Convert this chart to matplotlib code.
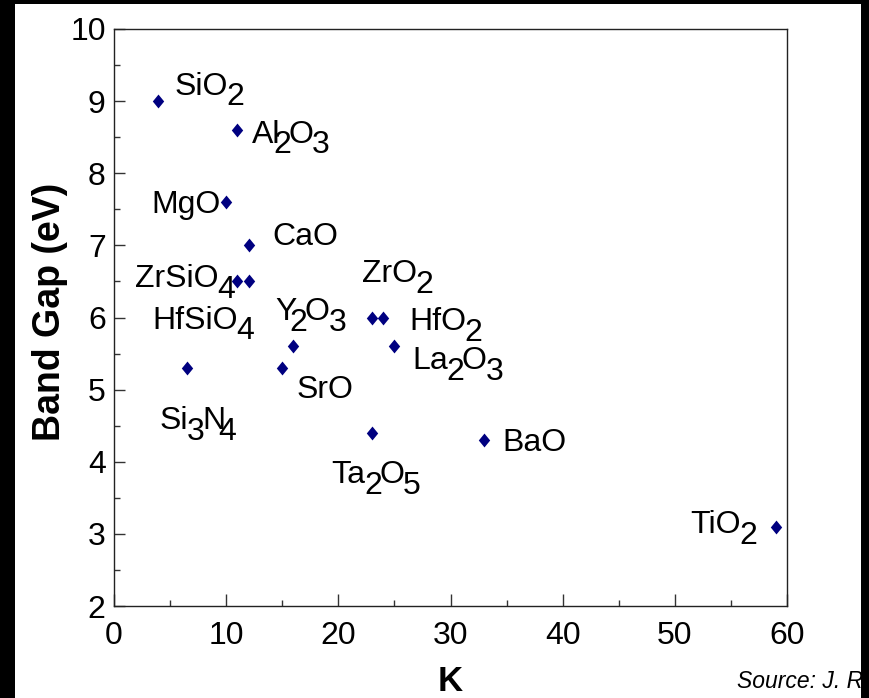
import matplotlib
matplotlib.use("Agg")
import matplotlib.pyplot as plt
from matplotlib.patches import Rectangle
from matplotlib.path import Path

plt.rcParams['font.family'] = ['Liberation Sans', 'DejaVu Sans']

# dielectric constant K and band gap (eV) for each oxide
names = ["SiO2", "Al2O3", "MgO", "CaO", "ZrSiO4", "HfSiO4", "Y2O3", "SrO",
         "Si3N4", "ZrO2", "HfO2", "La2O3", "Ta2O5", "BaO", "TiO2"]
k_vals = [3.9, 11, 10, 12, 12, 11, 16, 15, 6.5, 23, 24, 25, 23, 33, 59]
gap_vals = [9.0, 8.6, 7.6, 7.0, 6.5, 6.5, 5.6, 5.3, 5.3, 6.0, 6.0, 5.6, 4.4, 4.3, 3.1]

# label pieces: (text, is_subscript, kerning in points)
label_parts = {
    "SiO2": [("SiO", 0, 0), ("2", 1, -1)],
    "Al2O3": [("Al", 0, 0), ("2", 1, -5), ("O", 0, -2), ("3", 1, -1)],
    "MgO": [("MgO", 0, 0)],
    "CaO": [("CaO", 0, 0)],
    "ZrSiO4": [("ZrSiO", 0, 0), ("4", 1, -1)],
    "HfSiO4": [("HfSiO", 0, 0), ("4", 1, -1)],
    "Y2O3": [("Y", 0, 0), ("2", 1, -5), ("O", 0, -2), ("3", 1, -1)],
    "SrO": [("SrO", 0, 0)],
    "Si3N4": [("Si", 0, 0), ("3", 1, -1), ("N", 0, -2), ("4", 1, -5)],
    "ZrO2": [("ZrO", 0, 0), ("2", 1, -1)],
    "HfO2": [("HfO", 0, 0), ("2", 1, -1)],
    "La2O3": [("La", 0, 0), ("2", 1, -1), ("O", 0, -2), ("3", 1, -1)],
    "Ta2O5": [("Ta", 0, 0), ("2", 1, -1), ("O", 0, -2), ("5", 1, -1)],
    "BaO": [("BaO", 0, 0)],
    "TiO2": [("TiO", 0, 0), ("2", 1, -1)],
}
# where each label starts (left edge, baseline) in data units
label_x = [5.4, 12.3, 3.3, 14.1, 1.9, 3.4, 14.4, 16.3, 4.1, 22.1, 26.3, 26.6, 19.4, 34.6, 51.4]
label_y = [9.085, 8.42, 7.45, 7.0, 6.42, 5.84, 5.96, 4.89, 4.45, 6.49, 5.82, 5.28, 3.7, 4.15, 3.01]

fig = plt.figure(figsize=(8.69, 6.98), dpi=100, facecolor="black")
fig.patches.append(Rectangle((15 / 869, 0), (861 - 15) / 869, 1 - 4 / 698,
                             transform=fig.transFigure, facecolor="white",
                             edgecolor="none", zorder=-5))

ax = fig.add_axes([114 / 869, 1 - 606 / 698, (787 - 114) / 869, (606 - 29) / 698])
ax.set_facecolor("white")

diamond = Path([(0, 1), (0.82, 0), (0, -1), (-0.82, 0), (0, 1)],
               [Path.MOVETO, Path.LINETO, Path.LINETO, Path.LINETO, Path.CLOSEPOLY])
ax.plot(k_vals, gap_vals, linestyle="none", marker=diamond, markersize=10,
        color="#000080", markeredgewidth=0, clip_on=False, zorder=3)

fs = 23
for i, n in enumerate(names):
    parts = label_parts[n]
    prev = ax.text(label_x[i], label_y[i], parts[0][0], fontsize=fs,
                   ha="left", va="baseline")
    for s, sub, dx in parts[1:]:
        dy = -7.5 if sub else 0
        prev = ax.annotate(s, xy=(1, label_y[i]), xycoords=(prev, "data"),
                           xytext=(dx, dy), textcoords="offset points",
                           fontsize=fs, ha="left", va="baseline")

ax.set_xlim(0, 60)
ax.set_ylim(2, 10)
ax.set_xticks(range(0, 61, 10))
ax.set_xticks(range(5, 60, 10), minor=True)
ax.set_yticks(range(2, 11))
ax.set_yticks([x + 0.5 for x in range(2, 10)], minor=True)
ax.tick_params(which="both", direction="in", labelsize=23, width=1, color="#333333")
ax.tick_params(axis="x", which="major", length=9, pad=11)
ax.tick_params(axis="x", which="minor", length=4.5)
ax.tick_params(axis="y", which="major", length=8, pad=6)
ax.tick_params(axis="y", which="minor", length=4.5)
for sp in ax.spines.values():
    sp.set_color("#222222")
    sp.set_linewidth(1)

ax.set_xlabel("K", fontsize=25, fontweight="bold", va="center")
ax.xaxis.set_label_coords(0.5, -0.131)
ax.set_ylabel("Band Gap (eV)", fontsize=27, fontweight="bold", va="center")
ax.yaxis.set_label_coords(-0.095, 0.51)

fig.text(737 / 869, 1 - 688 / 698, "Source: J. R", fontsize=16.5,
         style="italic", ha="left", va="baseline", zorder=5)

fig.savefig("out.png", dpi=100, facecolor="black")
